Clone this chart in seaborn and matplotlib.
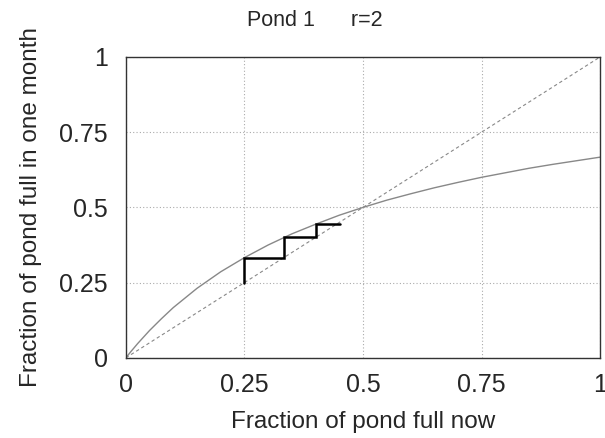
import matplotlib
matplotlib.use("Agg")
import matplotlib.pyplot as plt
import seaborn as sns
import pandas as pd

# curve (pond next month vs now)
curve_x = [0, 0.01, 0.025, 0.05, 0.075, 0.1, 0.15, 0.2, 0.25, 0.3, 0.35, 0.4, 0.45,
           0.5, 0.55, 0.6, 0.65, 0.7, 0.75, 0.8, 0.85, 0.9, 0.95, 1.0]
curve_y = [0, 0.0196, 0.0476, 0.0909, 0.130, 0.167, 0.231, 0.286, 0.333, 0.375, 0.412,
           0.444, 0.474, 0.5, 0.524, 0.545, 0.565, 0.583, 0.6, 0.615, 0.630, 0.643,
           0.655, 0.667]

# identity line
diag = [0, 1]

# cobweb steps
step_x = [0.25, 0.25, 0.333, 0.333, 0.4, 0.4, 0.452]
step_y = [0.25, 0.333, 0.333, 0.4, 0.4, 0.444, 0.444]

ticks = [0, 0.25, 0.5, 0.75, 1]
tick_labels = ["0", "0.25", "0.5", "0.75", "1"]

sns.set_style("white")
plt.rcParams["font.family"] = ["Liberation Sans", "DejaVu Sans"]

fig, ax = plt.subplots(figsize=(6.05, 4.38), dpi=100)
fig.subplots_adjust(left=0.208, right=0.992, top=0.870, bottom=0.183)

curve = pd.DataFrame({"x": curve_x, "y": curve_y})
sns.lineplot(data=curve, x="x", y="y", color="#888888", lw=1.0, ax=ax)
sns.lineplot(x=diag, y=diag, color="#888888", lw=0.8, ls=(0, (3, 2.5)), ax=ax)
ax.plot(step_x, step_y, color="black", lw=1.8, solid_joinstyle="miter")

ax.set_xlim(0, 1)
ax.set_ylim(0, 1)
ax.set_xticks(ticks, tick_labels)
ax.set_yticks(ticks, tick_labels)
ax.grid(True, color="#aaaaaa", ls=(0, (1, 2)), lw=0.8)
ax.tick_params(direction="in", length=4, labelsize=18, pad=11, color="#444444")
ax.tick_params(axis="y", pad=13)
for s in ax.spines.values():
    s.set_visible(True)
    s.set_color("#333333")
    s.set_linewidth(1.0)

ax.set_xlabel("Fraction of pond full now", fontsize=17.5, labelpad=10)
ax.set_ylabel("Fraction of pond full in one month", fontsize=17.5, labelpad=12)
fig.text(315 / 605, 1 - 21 / 438, "Pond 1      r=2", fontsize=15.5,
         ha="center", va="center")

fig.savefig("out.png", dpi=100)
